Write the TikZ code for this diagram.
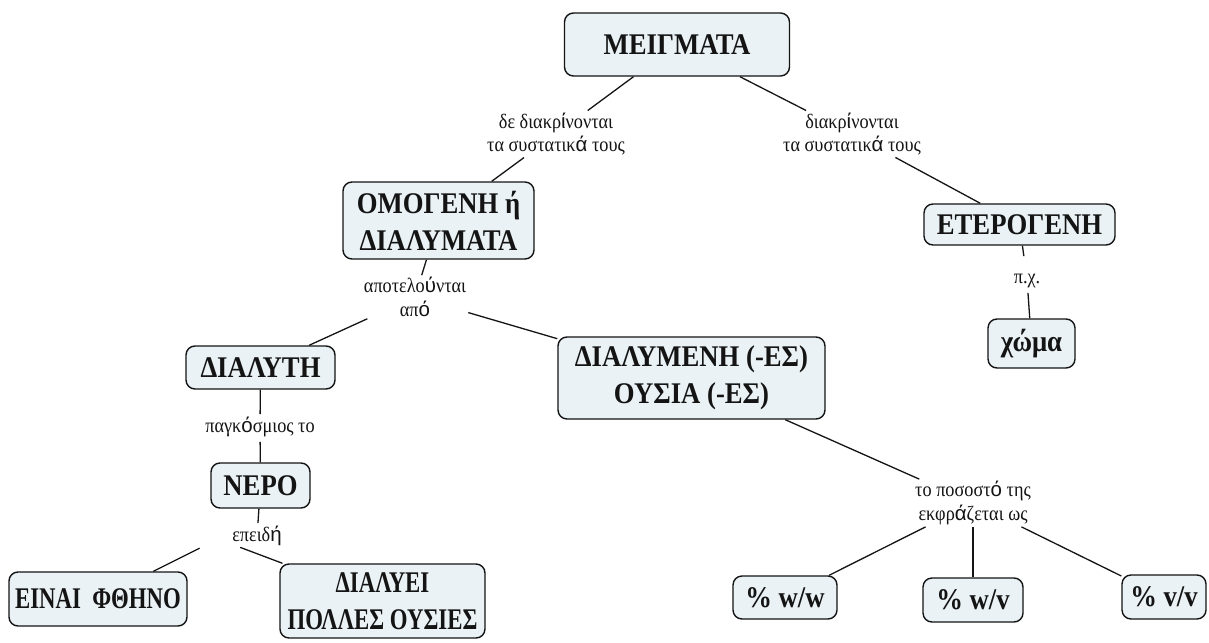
\documentclass[tikz,border=0pt]{standalone}
\usepackage{fontspec}
\setmainfont{Liberation Serif}[FakeStretch=0.89]
\newfontfamily\narrowbf{Liberation Serif}[FakeStretch=0.76]
\newfontfamily\accfont{Liberation Sans}
\newcommand{\sa}[1]{{\accfont #1}}
\definecolor{boxfill}{HTML}{EAF2F5}
\definecolor{ink}{HTML}{141414}
\begin{document}
\begin{tikzpicture}[x=1pt,y=-1pt,
  box/.style={draw=ink, line width=1.4pt, fill=boxfill, rounded corners=9pt,
    align=center, font=\fontsize{30}{37}\selectfont\bfseries, inner sep=0pt, text=ink},
  lab/.style={align=center, font=\fontsize{20.5}{23.5}\selectfont, inner sep=2pt, text=ink},
  hub/.style={inner sep=0pt, draw=none},
  link/.style={line width=1.3pt, draw=ink}]
\path[use as bounding box, fill=white] (0,0) rectangle (1209,642);

% concept boxes
\node[box, minimum width=225pt, minimum height=63pt] (mix) at (677,44.5) {ΜΕΙΓΜΑΤΑ};
\node[box, minimum width=191pt, minimum height=77pt] (hom) at (438.5,220.5) {ΟΜΟΓΕΝΗ ή\\ΔΙΑΛΥΜΑΤΑ};
\node[box, minimum width=191pt, minimum height=41pt] (het) at (1019.5,224.5) {ΕΤΕΡΟΓΕΝΗ};
\node[box, minimum width=87pt, minimum height=49pt] (soil) at (1031.5,343.5) {χώμα};
\node[box, minimum width=149pt, minimum height=43pt] (solv) at (260.5,367.5) {ΔΙΑΛΥΤΗ};
\node[box, minimum width=267pt, minimum height=82pt] (solu) at (691.5,378) {ΔΙΑΛΥΜΕΝΗ (-ΕΣ)\\ΟΥΣΙΑ (-ΕΣ)};
\node[box, minimum width=99pt, minimum height=45pt] (water) at (260.5,485.5) {ΝΕΡΟ};
\node[box, minimum width=178pt, minimum height=54pt] (cheap) at (98,599) {\narrowbf ΕΙΝΑΙ\ \ ΦΘΗΝΟ};
\node[box, minimum width=205pt, minimum height=74pt] (diss) at (382.5,601) {\narrowbf ΔΙΑΛΥΕΙ\\\narrowbf ΠΟΛΛΕΣ ΟΥΣΙΕΣ};
\node[box, minimum width=104pt, minimum height=43pt] (ww) at (785,597.5) {\% w/w};
\node[box, minimum width=100pt, minimum height=44pt] (wv) at (973,600) {\% w/v};
\node[box, minimum width=84pt, minimum height=44pt] (vv) at (1164,597) {\% v/v};

% linking phrases
\node[lab] (l1) at (556,134) {δε διακρ\sa{ί}νονται\\τα συστατικ\sa{ά} τους};
\node[lab] (l2) at (852,134) {διακρ\sa{ί}νονται\\τα συστατικ\sa{ά} τους};
\node[lab] (l3) at (1027,279) {\strut π.χ.};
\node[lab] (l4) at (415,297) {αποτελο\sa{ύ}νται\\απ\sa{ό}};
\node[lab] (l5) at (260,428) {\strut παγκ\sa{ό}σμιος το};
\node[lab] (l6) at (257,537) {\strut επειδ\sa{ή}};
\node[hub, minimum width=44pt, minimum height=18pt] (l6hub) at (218,539) {};
\node[lab] (l7) at (973,503) {το ποσοστ\sa{ό} της\\εκφρ\sa{ά}ζεται ως};

% connectors
\draw[link] (mix) -- (l1);
\draw[link] (l1) -- (hom);
\draw[link] (mix) -- (l2);
\draw[link] (l2) -- (het);
\draw[link, shorten >=9pt] (het) -- (l3);
\draw[link] (l3) -- (soil);
\draw[link] (hom) -- (l4);
\draw[link] (l4) -- (solv);
\draw[link] (l4) -- (solu);
\draw[link] (solv) -- (l5);
\draw[link] (l5) -- (water);
\draw[link] (water) -- (l6);
\draw[link] (l6hub) -- (cheap);
\draw[link] (l6hub) -- (diss);
\draw[link] (solu) -- (l7);
\draw[link] (l7) -- (ww);
\draw[link] (l7) -- (wv);
\draw[link] (l7) -- (vv);
\end{tikzpicture}
\end{document}
